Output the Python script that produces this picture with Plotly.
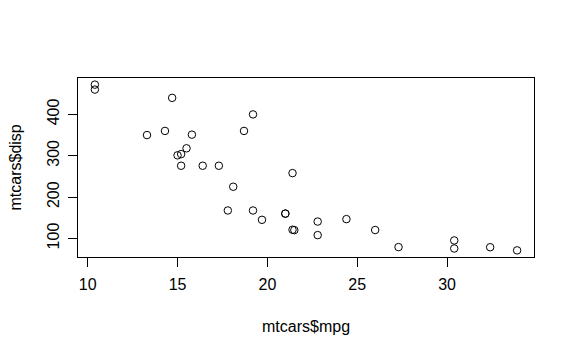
import plotly.graph_objects as go

mpg = [21.0, 21.0, 22.8, 21.4, 18.7, 18.1, 14.3, 24.4, 22.8, 19.2, 17.8, 16.4, 17.3, 15.2, 10.4, 10.4,
       14.7, 32.4, 30.4, 33.9, 21.5, 15.5, 15.2, 13.3, 19.2, 27.3, 26.0, 30.4, 15.8, 19.7, 15.0, 21.4]
disp = [160, 160, 108, 258, 360, 225, 360, 146.7, 140.8, 167.6, 167.6, 275.8, 275.8, 275.8, 472, 460,
        440, 78.7, 75.7, 71.1, 120.1, 318, 304, 350, 400, 79, 120.3, 95.1, 351, 145, 301, 121]
x_ticks = [10, 15, 20, 25, 30]
y_ticks = [100, 200, 300, 400]

W, H = 575, 355
L, R, T, B = 78, 534, 78, 257

def ext(v):
    lo, hi = min(v), max(v)
    d = (hi - lo) * 0.04
    return [lo - d, hi + d]

font = dict(family="Liberation Sans, Arial, sans-serif", size=16, color="black")

fig = go.Figure(go.Scatter(
    x=mpg, y=disp, mode="markers",
    marker=dict(symbol="circle-open", size=7.5, color="black", line=dict(width=1, color="black")),
    hoverinfo="skip"))

axis_common = dict(showgrid=False, zeroline=False, showline=True, linecolor="black", linewidth=1,
                   mirror=True, ticks="outside", ticklen=9, tickwidth=1, tickcolor="black",
                   tickfont=font)

fig.update_layout(
    width=W, height=H, autosize=False,
    margin=dict(l=L, r=W - R, t=T, b=H - B, pad=0),
    paper_bgcolor="white", plot_bgcolor="white",
    showlegend=False,
    xaxis=dict(range=ext(mpg), tickmode="array", tickvals=x_ticks, ticktext=[str(t) for t in x_ticks],
               ticklabelstandoff=4, **axis_common),
    yaxis=dict(range=ext(disp), tickmode="array", tickvals=y_ticks, ticktext=[str(t) for t in y_ticks],
               tickangle=-90, ticklabelstandoff=3, **axis_common),
    annotations=[
        dict(text="mtcars$mpg", xref="paper", yref="paper", x=0.5, y=-(326 - B) / (B - T),
             xanchor="center", yanchor="middle", showarrow=False, font=font),
        dict(text="mtcars$disp", xref="paper", yref="paper", x=-(L - 15) / (R - L), y=0.5,
             xanchor="center", yanchor="middle", textangle=-90, showarrow=False, font=font),
    ],
)

fig.write_html("out.html")
